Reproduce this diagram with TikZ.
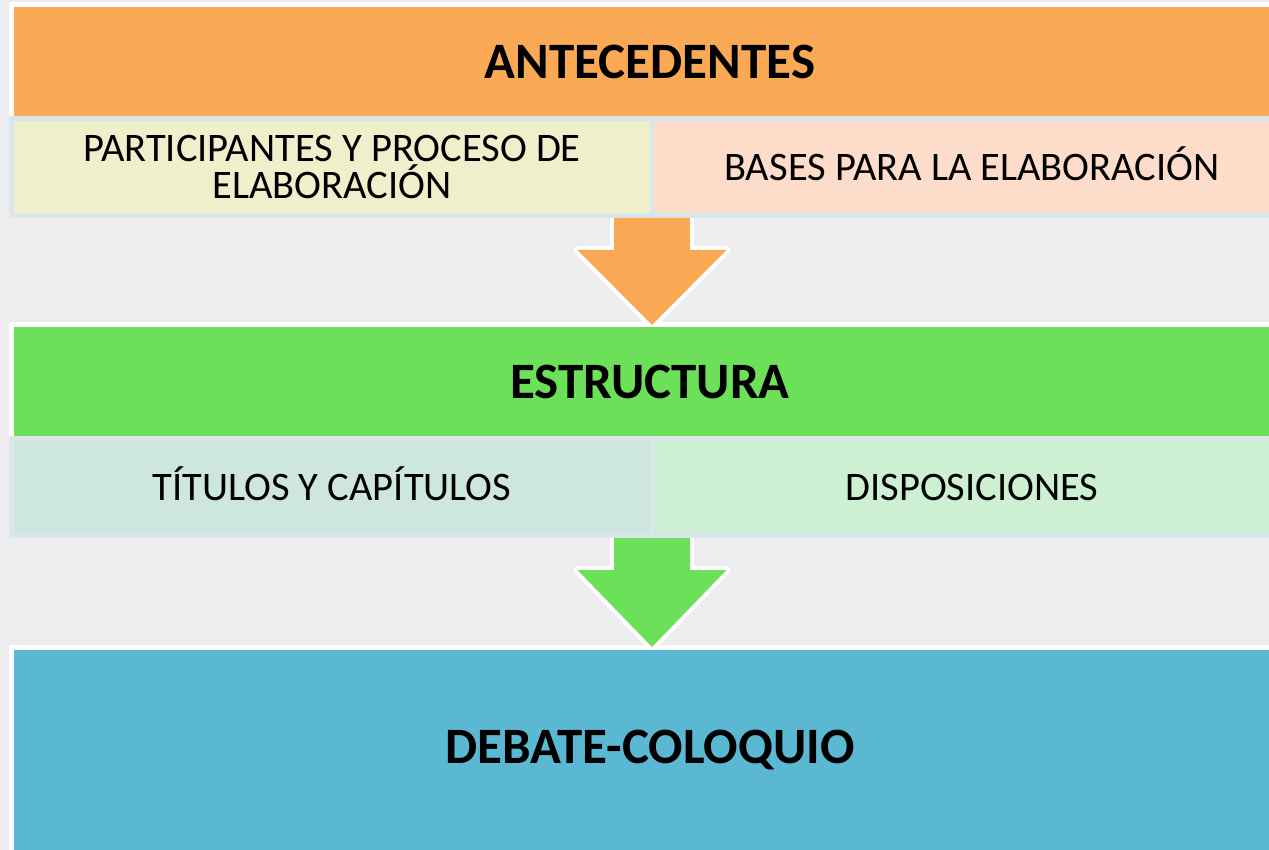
\documentclass[tikz,border=0pt]{standalone}
\usepackage{fontspec}
\setmainfont{Carlito}
\usetikzlibrary{calc}
\definecolor{bgc}{HTML}{EDEDEF}
\definecolor{orangec}{HTML}{FAA955}
\definecolor{yellowc}{HTML}{EFEFCB}
\definecolor{peachc}{HTML}{FDDDC9}
\definecolor{rowborder}{HTML}{DAE6EA}
\definecolor{greenc}{HTML}{6DE05A}
\definecolor{tealc}{HTML}{CDE6DF}
\definecolor{lgreenc}{HTML}{CCF0D1}
\definecolor{bluec}{HTML}{5BB8D2}
\tikzset{
  head/.style={rectangle, draw=white, line width=5pt, inner sep=0pt, minimum width=1277pt,
    font=\fontsize{51}{55}\selectfont\bfseries, text=black},
  cell/.style={rectangle, inner sep=0pt, minimum width=636pt, minimum height=92pt,
    font=\fontsize{40.5}{37.5}\selectfont, align=center, text=black},
  oneline/.style={text height=27pt, text depth=0pt},
  rowbg/.style={fill=rowborder},
  arrowline/.style={line width=8pt, draw=white, line join=round},
}
\begin{document}
\begin{tikzpicture}[x=1pt,y=-1pt]
\useasboundingbox[fill=bgc] (0,0) rectangle (1269,850);
\coordinate (a1) at (652,205);
\coordinate (a2) at (652,528);
\def\arrowpath#1#2#3{($(#1)+(-38,0)$) -- ($(#1)+(38,0)$) -- ($(#1)+(38,#2)$) -- ($(#1)+(74.5,#2)$)
    -- ($(#1)+(0,#3)$) -- ($(#1)+(-74.5,#2)$) -- ($(#1)+(-38,#2)$) -- cycle}
% white outlines of the block arrows
\path[arrowline] \arrowpath{a1}{45}{120};
\path[arrowline] \arrowpath{a2}{42}{119};
% top block
\node[head, fill=orangec, minimum height=114pt] (ante) at (650,61.5) {ANTECEDENTES};
\fill[rowbg] (9,116) rectangle (1300,218);
\node[cell, fill=yellowc] (part) at (332,167) {PARTICIPANTES Y PROCESO DE\\ELABORACIÓN};
\node[cell, oneline, fill=peachc] (bases) at (972,167) {BASES PARA LA ELABORACIÓN};
% middle block
\node[head, fill=greenc, minimum height=115pt] (estr) at (650,382) {ESTRUCTURA};
\fill[rowbg] (9,436) rectangle (1300,538);
\node[cell, oneline, fill=tealc] (tit) at (332,487) {TÍTULOS Y CAPÍTULOS};
\node[cell, oneline, fill=lgreenc] (disp) at (972,487) {DISPOSICIONES};
% bottom block
\node[head, fill=bluec, minimum height=205pt] (deb) at (650,750) {DEBATE-COLOQUIO};
% fills of the block arrows, from the row above to the block below
\coordinate (b1) at (652,218);
\coordinate (b2) at (652,538);
\fill[orangec] \arrowpath{b1}{32}{107};
\fill[greenc] \arrowpath{b2}{32}{109};
\end{tikzpicture}
\end{document}
